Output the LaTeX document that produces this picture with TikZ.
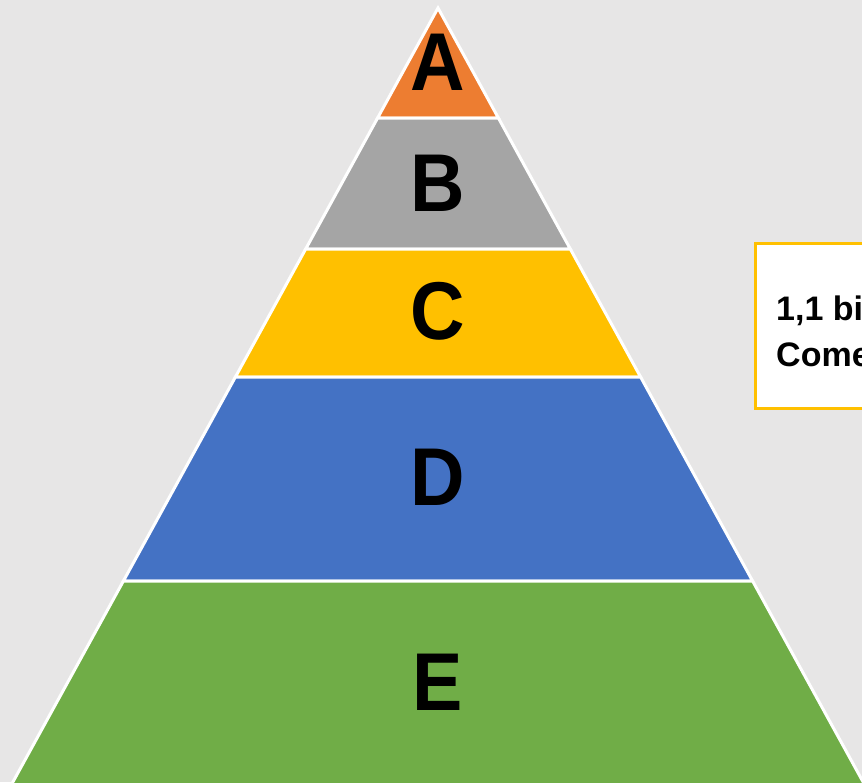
\documentclass[tikz,border=0pt]{standalone}
\usepackage{fontspec}
\setmainfont{Liberation Sans}
\definecolor{bgc}{HTML}{E7E6E6}
\definecolor{cA}{HTML}{ED7D31}
\definecolor{cB}{HTML}{A5A5A5}
\definecolor{cC}{HTML}{FFC000}
\definecolor{cD}{HTML}{4472C4}
\definecolor{cE}{HTML}{70AD47}
\tikzset{
  band/.style={draw=white, line width=3pt, line join=miter},
  biglabel/.style={font=\fontsize{82}{82}\selectfont\bfseries, text=black, anchor=base, inner sep=0pt, xscale=0.92},
  boxtext/.style={font=\fontsize{34}{34}\selectfont\bfseries, text=black, anchor=base west, inner sep=0pt},
  infobox/.style={draw=cC, line width=3pt, fill=white}
}
\begin{document}
\begin{tikzpicture}[x=1pt,y=1pt]
\useasboundingbox (0,0) rectangle (862,-782);
\fill[bgc] (0,0) rectangle (862,-782);
\begin{scope}
\clip (0,0) rectangle (862,-782);
% bands
\filldraw[band, fill=cA] (438,-8) -- (498.4,-118) -- (377.6,-118) -- cycle;
\filldraw[band, fill=cB] (377.6,-118) -- (498.4,-118) -- (570.3,-249) -- (305.7,-249) -- cycle;
\filldraw[band, fill=cC] (305.7,-249) -- (570.3,-249) -- (640.6,-377) -- (235.4,-377) -- cycle;
\filldraw[band, fill=cD] (235.4,-377) -- (640.6,-377) -- (752.6,-581) -- (123.4,-581) -- cycle;
\filldraw[band, fill=cE] (123.4,-581) -- (752.6,-581) -- (873,-800) -- (3,-800) -- cycle;
% info box
\filldraw[infobox] (755.5,-243.5) rectangle (1000,-408.5);
\node[boxtext] (t1) at (776,-320) {1,1 bi};
\node[boxtext] (t2) at (776,-366) {Come};
\end{scope}
\node[biglabel] (A) at (438,-90) {A};
\node[biglabel] (B) at (438,-211) {B};
\node[biglabel] (C) at (438,-339) {C};
\node[biglabel] (D) at (438,-505) {D};
\node[biglabel] (E) at (438,-710) {E};
\end{tikzpicture}
\end{document}
